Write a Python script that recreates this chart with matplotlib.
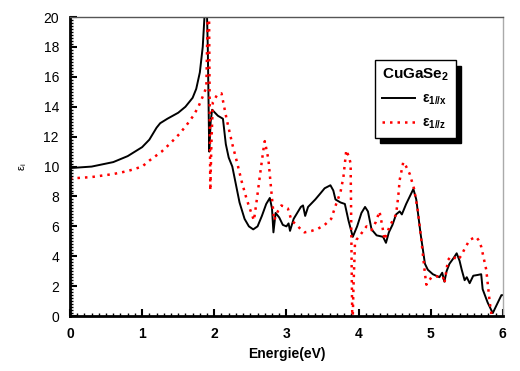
import matplotlib
matplotlib.use("Agg")
import matplotlib.pyplot as plt
from matplotlib.ticker import MultipleLocator

plt.rcParams['font.family'] = ['Liberation Sans', 'DejaVu Sans']
plt.rcParams['mathtext.fontset'] = 'custom'
plt.rcParams['mathtext.rm'] = 'Liberation Sans'
plt.rcParams['mathtext.bf'] = 'Liberation Sans:bold'
plt.rcParams['mathtext.it'] = 'Liberation Sans:italic'

# eps_1 along x (solid black)
E_x = [0.0, 0.3, 0.6, 0.8, 1.0, 1.1, 1.15, 1.2, 1.25, 1.35, 1.5, 1.6, 1.7, 1.75,
       1.8, 1.84, 1.87, 1.89, 1.91, 1.93, 1.95, 1.97, 2.05, 2.12, 2.16, 2.2, 2.25,
       2.3, 2.35, 2.42, 2.48, 2.54, 2.6, 2.66, 2.72, 2.77, 2.8, 2.82, 2.85, 2.9,
       2.95, 3.0, 3.03, 3.05, 3.1, 3.15, 3.2, 3.23, 3.26, 3.3, 3.4, 3.47, 3.53,
       3.61, 3.65, 3.68, 3.75, 3.81, 3.86, 3.92, 3.98, 4.04, 4.09, 4.13, 4.18,
       4.25, 4.34, 4.38, 4.42, 4.47, 4.52, 4.57, 4.6, 4.66, 4.71, 4.76, 4.8, 4.86,
       4.92, 4.96, 5.03, 5.12, 5.16, 5.19, 5.22, 5.26, 5.32, 5.36, 5.4, 5.43, 5.47,
       5.5, 5.54, 5.59, 5.65, 5.7, 5.72, 5.79, 5.86, 5.93, 5.98, 6.0]
eps_x = [9.9, 10.0, 10.3, 10.7, 11.3, 11.8, 12.2, 12.6, 12.9, 13.2, 13.6, 14.0, 14.6, 15.2,
         16.3, 18.0, 20.5, 22.0, 18.0, 11.0, 13.0, 13.8, 13.4, 13.2, 11.5, 10.6, 10.0,
         8.8, 7.6, 6.5, 6.0, 5.8, 6.0, 6.7, 7.5, 7.9, 7.2, 5.6, 6.9, 6.6,
         6.1, 6.0, 6.2, 5.7, 6.5, 6.9, 7.3, 7.4, 6.7, 7.3, 7.8, 8.2, 8.55,
         8.75, 8.4, 7.8, 7.6, 7.5, 6.4, 5.3, 6.0, 6.9, 7.3, 7.0, 5.8,
         5.4, 5.3, 4.9, 5.6, 6.1, 6.8, 7.0, 6.8, 7.5, 8.0, 8.5, 7.8, 5.5,
         3.5, 3.1, 2.8, 2.6, 2.9, 2.3, 3.0, 3.5, 3.9, 4.2, 3.7, 3.1, 2.4,
         2.6, 2.2, 2.7, 2.75, 2.8, 1.8, 0.9, 0.2, 0.9, 1.4, 1.4]

# eps_1 along z (red dotted)
E_z = [0.0, 0.3, 0.6, 0.8, 1.0, 1.1, 1.27, 1.4, 1.52, 1.62, 1.71, 1.78, 1.85, 1.89,
       1.91, 1.925, 1.935, 1.945, 1.96, 1.98, 2.04, 2.1, 2.17, 2.25, 2.32, 2.38,
       2.45, 2.52, 2.55, 2.59, 2.63, 2.68, 2.7, 2.75, 2.79, 2.83, 2.88, 2.93,
       3.02, 3.07, 3.14, 3.2, 3.25, 3.35, 3.44, 3.53, 3.62, 3.69, 3.75, 3.79,
       3.83, 3.87, 3.89, 3.905, 3.915, 3.93, 3.95, 3.97, 4.02, 4.11, 4.18, 4.24,
       4.29, 4.33, 4.36, 4.43, 4.52, 4.55, 4.57, 4.62, 4.66, 4.71, 4.77, 4.82,
       4.87, 4.92, 4.94, 5.01, 5.08, 5.17, 5.19, 5.24, 5.28, 5.33, 5.38, 5.43,
       5.47, 5.54, 5.63, 5.66, 5.7, 5.77, 5.82, 5.84, 5.87]
eps_z = [9.2, 9.3, 9.5, 9.7, 10.0, 10.4, 11.0, 11.6, 12.2, 12.8, 13.4, 14.0, 14.8, 15.3,
         20.5, 22.0, 15.0, 8.4, 11.5, 14.3, 14.8, 14.9, 13.2, 11.5, 10.2, 9.0,
         7.8, 6.8, 6.4, 7.8, 9.3, 11.1, 11.7, 10.5, 8.4, 6.4, 7.0, 7.4,
         7.2, 6.4, 6.1, 5.8, 5.6, 5.7, 5.85, 6.1, 6.5, 7.5, 8.3, 9.3,
         11.1, 10.6, 10.2, 3.0, -1.0, 2.0, 4.8, 5.1, 5.4, 6.0, 5.75, 6.3,
         7.0, 6.0, 5.1, 6.0, 6.8, 8.0, 9.1, 10.3, 10.0, 9.5, 8.5, 7.1,
         5.1, 2.85, 2.1, 2.6, 2.65, 2.65, 2.2, 3.75, 4.0, 3.9, 3.75, 4.1,
         4.5, 5.1, 5.3, 5.1, 4.65, 3.1, 0.85, 0.2, -1.0]

fig = plt.figure(figsize=(5.2, 3.71), dpi=100)
ax = fig.add_axes([0.1346, 0.148, 0.8324, 0.806])

ax.plot(E_x, eps_x, color='black', lw=1.4, label='ε$_{\\mathbf{1//x}}$')
ax.plot(E_z, eps_z, color='red', lw=1.8, ls=(0, (1, 2.0)), label='ε$_{\\mathbf{1//z}}$')

ax.set_xlim(0, 6)
ax.set_ylim(0, 20)
ax.xaxis.set_major_locator(MultipleLocator(1))
ax.xaxis.set_minor_locator(MultipleLocator(0.1))
ax.yaxis.set_major_locator(MultipleLocator(2))
ax.yaxis.set_minor_locator(MultipleLocator(0.2))
ax.tick_params(which='both', direction='in', top=False, right=False)
ax.tick_params(which='major', length=5, width=1.5, labelsize=10, pad=8)
ax.tick_params(which='minor', length=2.5, width=1)
for lab in ax.get_xticklabels():
    lab.set_fontweight('bold')

for s in ['left', 'bottom']:
    ax.spines[s].set_linewidth(2)
ax.spines['top'].set_color('#555555')
ax.spines['right'].set_color('#aaaaaa')
ax.spines['top'].set_linewidth(1)
ax.spines['right'].set_linewidth(1)

ax.set_xlabel('Energie(eV)', fontweight='bold', fontsize=10, labelpad=4)
ax.set_ylabel('ε$_\\mathrm{i}$', fontsize=8, labelpad=10)

leg = ax.legend(title='CuGaSe$_\\mathbf{2}$', loc='upper left',
                bbox_to_anchor=(0.704, 0.856), borderaxespad=0, frameon=True, fancybox=False,
                shadow={'color': 'black', 'alpha': 1, 'ox': 4, 'oy': -4},
                edgecolor='black', handlelength=2.4, handletextpad=0.5, borderpad=0.5,
                labelspacing=0.6, prop={'weight': 'bold', 'size': 10},
                title_fontproperties={'weight': 'bold', 'size': 11})
leg.get_frame().set_linewidth(1)
leg._legend_box.align = 'left'

fig.savefig('out.png', dpi=100)
